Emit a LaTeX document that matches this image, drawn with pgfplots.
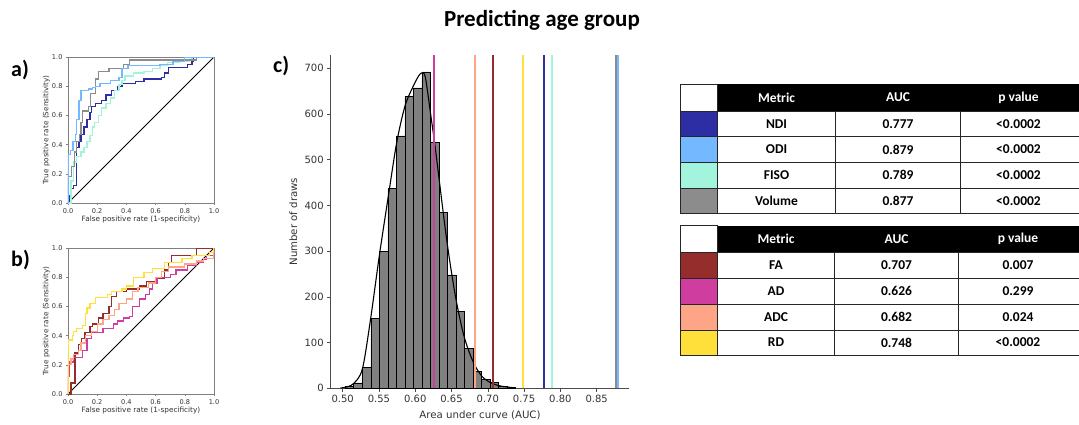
\documentclass[border=0pt]{standalone}
\usepackage{pgfplots}
\pgfplotsset{compat=1.18}
\usepackage{fontspec}
\setmainfont{DejaVu Sans}
\newfontfamily\calfont{Carlito}
\definecolor{ndi}{HTML}{2E2EA4}
\definecolor{odi}{HTML}{74B9FF}
\definecolor{fiso}{HTML}{A2F5DC}
\definecolor{vol}{HTML}{8C8C8C}
\definecolor{fa}{HTML}{962D2D}
\definecolor{ad}{HTML}{CF3E9E}
\definecolor{adc}{HTML}{FFA587}
\definecolor{rd}{HTML}{FFE03A}
\definecolor{histgray}{HTML}{808080}

\pgfplotsset{
  roc/.style={line width=1.3pt, const plot, #1},
  rocstyle/.style={
    scale only axis, width=146pt, height=146pt,
    xmin=0, xmax=1, ymin=0, ymax=1,
    xtick={0,0.2,0.4,0.6,0.8,1}, ytick={0,0.2,0.4,0.6,0.8,1},
    /pgf/number format/assume math mode=true,
    xticklabel style={/pgf/number format/fixed, /pgf/number format/fixed zerofill, /pgf/number format/precision=1},
    yticklabel style={/pgf/number format/fixed, /pgf/number format/fixed zerofill, /pgf/number format/precision=1},
    tick label style={font=\fontsize{6.6}{7.5}\selectfont, text=black!80},
    label style={font=\fontsize{7.3}{8.5}\selectfont, text=black!80},
    axis line style={black!50, line width=0.7pt},
    tick style={black!50, line width=0.5pt},
    major tick length=2pt, tick align=outside,
    xtick pos=bottom, ytick pos=left,
    xlabel={False positive rate (1-specificity)},
    ylabel={True positive rate (Sensitivity)},
    xlabel style={at={(axis description cs:0.5,-0.112)}, anchor=center},
    ylabel style={at={(axis description cs:-0.148,0.5)}, anchor=center},
  }
}

\begin{document}
\begin{tikzpicture}[x=1pt,y=1pt]
\useasboundingbox (0,0) rectangle (1079,424);
\fill[white] (0,0) rectangle (1079,424);

% title and panel labels
\node[font=\calfont\bfseries\fontsize{23}{27}\selectfont, anchor=base] at (542,397.3) {Predicting age group};
\node[font=\calfont\bfseries\fontsize{22}{26}\selectfont, anchor=base west, inner sep=0] at (11,347.3) {a)};
\node[font=\calfont\bfseries\fontsize{22}{26}\selectfont, anchor=base west, inner sep=0] at (11,157.3) {b)};
\node[font=\calfont\bfseries\fontsize{22}{26}\selectfont, anchor=base west, inner sep=0] at (273,351) {c)};

% ROC a
\begin{axis}[rocstyle, at={(68pt,221pt)}, anchor=south west]
\addplot[black, line width=1pt] coordinates {(0,0) (1,1)};
\addplot[roc=ndi] coordinates {(0,0) (0.007,0.05) (0.02,0.10) (0.04,0.12) (0.057,0.38) (0.075,0.42) (0.09,0.47) (0.11,0.52) (0.13,0.57) (0.15,0.62) (0.16,0.66) (0.19,0.68) (0.23,0.70) (0.26,0.74) (0.30,0.77) (0.34,0.80) (0.37,0.82) (0.46,0.83) (0.52,0.85) (0.64,0.86) (0.66,0.89) (0.69,0.93) (0.82,0.95) (0.85,0.97) (0.86,1.0) (1,1)};
\addplot[roc=fiso] coordinates {(0,0) (0.02,0.15) (0.04,0.28) (0.06,0.32) (0.09,0.35) (0.11,0.38) (0.13,0.42) (0.15,0.46) (0.17,0.52) (0.18,0.55) (0.21,0.60) (0.23,0.65) (0.26,0.68) (0.29,0.72) (0.32,0.77) (0.35,0.81) (0.37,0.84) (0.39,0.87) (0.45,0.89) (0.52,0.90) (0.58,0.92) (0.63,0.94) (0.68,0.96) (0.76,0.97) (0.83,0.98) (0.85,1.0) (1,1)};
\addplot[roc=vol] coordinates {(0,0) (0,0.18) (0.023,0.25) (0.046,0.35) (0.06,0.42) (0.08,0.47) (0.09,0.55) (0.10,0.63) (0.14,0.66) (0.155,0.75) (0.19,0.85) (0.21,0.90) (0.28,0.92) (0.38,0.95) (0.42,0.98) (0.88,1.0) (1,1)};
\addplot[roc=odi] coordinates {(0,0) (0,0.33) (0.016,0.36) (0.034,0.42) (0.05,0.47) (0.06,0.57) (0.075,0.70) (0.09,0.77) (0.14,0.78) (0.17,0.79) (0.19,0.80) (0.22,0.82) (0.29,0.84) (0.35,0.86) (0.37,0.92) (0.41,0.94) (0.63,0.95) (0.72,0.97) (0.80,1.0) (1,1)};
\end{axis}

% ROC b
\begin{axis}[rocstyle, at={(68pt,30pt)}, anchor=south west]
\addplot[black, line width=1pt] coordinates {(0,0) (1,1)};
\addplot[roc=fa] coordinates {(0,0) (0.02,0.075) (0.048,0.28) (0.07,0.34) (0.094,0.38) (0.116,0.42) (0.15,0.46) (0.17,0.48) (0.21,0.52) (0.24,0.55) (0.28,0.60) (0.30,0.67) (0.33,0.70) (0.40,0.72) (0.49,0.74) (0.54,0.77) (0.60,0.79) (0.66,0.85) (0.69,0.90) (0.71,0.95) (0.88,1.0) (1,1)};
\addplot[roc=ad] coordinates {(0,0) (0,0.12) (0.012,0.22) (0.036,0.25) (0.10,0.30) (0.13,0.38) (0.16,0.42) (0.24,0.45) (0.31,0.48) (0.34,0.50) (0.38,0.52) (0.42,0.53) (0.44,0.60) (0.49,0.65) (0.53,0.68) (0.56,0.72) (0.58,0.76) (0.61,0.80) (0.70,0.82) (0.74,0.85) (0.82,0.88) (0.88,0.90) (0.93,0.92) (0.95,0.95) (1,1)};
\addplot[roc=adc] coordinates {(0,0) (0,0.20) (0.02,0.24) (0.04,0.27) (0.07,0.30) (0.09,0.35) (0.12,0.40) (0.16,0.43) (0.20,0.48) (0.24,0.51) (0.28,0.54) (0.32,0.58) (0.35,0.62) (0.40,0.65) (0.44,0.70) (0.48,0.73) (0.55,0.76) (0.60,0.80) (0.64,0.84) (0.69,0.87) (0.80,0.89) (0.88,0.91) (0.93,0.93) (1,0.97) (1,1)};
\addplot[roc=rd] coordinates {(0,0) (0,0.27) (0.005,0.37) (0.03,0.40) (0.04,0.43) (0.06,0.45) (0.10,0.47) (0.12,0.55) (0.13,0.59) (0.15,0.62) (0.19,0.66) (0.27,0.68) (0.30,0.70) (0.37,0.72) (0.40,0.74) (0.45,0.80) (0.52,0.83) (0.58,0.86) (0.66,0.90) (0.78,0.93) (0.85,0.95) (0.97,0.97) (1,1)};
\end{axis}

% Histogram c
\begin{axis}[scale only axis, width=298.6pt, height=333.3pt, at={(330.7pt,35.7pt)}, anchor=south west,
  xmin=0.4835, xmax=0.895, ymin=0, ymax=729,
  axis lines=left, axis line style={-, black!70, line width=0.7pt},
  xtick={0.50,0.55,0.60,0.65,0.70,0.75,0.80,0.85},
  ytick={0,100,200,300,400,500,600,700},
  /pgf/number format/assume math mode=true,
  xticklabel style={/pgf/number format/fixed, /pgf/number format/fixed zerofill, /pgf/number format/precision=2},
  tick label style={font=\fontsize{10}{12}\selectfont, text=black!80},
  label style={font=\fontsize{10.2}{12}\selectfont, text=black!80},
  tick style={black!70, line width=0.6pt}, major tick length=3.5pt, tick align=outside,
  xlabel={Area under curve (AUC)}, ylabel={Number of draws},
  xlabel style={at={(axis description cs:0.5,-0.080)}, anchor=center},
  ylabel style={at={(axis description cs:-0.125,0.5)}, anchor=center},
  clip=false]
\addplot[ybar interval, fill=histgray, draw=black, line width=0.6pt] coordinates {
(0.5035,4) (0.5153,12) (0.5270,45) (0.5388,153) (0.5505,300) (0.5623,437) (0.5740,552) (0.5858,638) (0.5975,657) (0.6093,692) (0.6210,537) (0.6328,384) (0.6445,248) (0.6563,168) (0.6680,87) (0.6798,37) (0.6915,20) (0.7033,13) (0.7150,5) (0.7268,2) (0.7385,0)};
\addplot[black, line width=1.1pt, smooth] coordinates {
(0.497,1) (0.5032,2) (0.5147,10) (0.5271,42) (0.5386,153) (0.5505,290) (0.5629,420) (0.5744,537) (0.5858,617) (0.5973,661) (0.6050,684) (0.6095,690) (0.6140,680) (0.6212,600) (0.6277,525) (0.6327,460) (0.6442,315) (0.6561,195) (0.6676,112) (0.6800,57) (0.6915,27) (0.7030,13) (0.7145,6) (0.7260,3) (0.7380,1)};
\addplot[ad, line width=2.1pt] coordinates {(0.626,0) (0.626,729)};
\addplot[adc, line width=2.1pt] coordinates {(0.682,0) (0.682,729)};
\addplot[fa, line width=2.1pt] coordinates {(0.707,0) (0.707,729)};
\addplot[rd, line width=2.1pt] coordinates {(0.748,0) (0.748,729)};
\addplot[ndi, line width=2.1pt] coordinates {(0.777,0) (0.777,729)};
\addplot[fiso, line width=2.1pt] coordinates {(0.789,0) (0.789,729)};
\addplot[vol, line width=2.1pt] coordinates {(0.877,0) (0.877,729)};
\addplot[odi, line width=2.1pt] coordinates {(0.879,0) (0.879,729)};
\end{axis}

% Tables
\begin{scope}[font=\calfont\bfseries\fontsize{13.5}{16}\selectfont]
% table 1
\fill[black] (717.3,340) rectangle (1085,313);
\fill[ndi] (680,313) rectangle (717.3,287.3);
\fill[odi] (680,287.3) rectangle (717.3,261.7);
\fill[fiso] (680,261.7) rectangle (717.3,235.7);
\fill[vol] (680,235.7) rectangle (717.3,210.7);
\begin{scope}[draw=black!85, line width=0.9pt]
\draw (680,340) rectangle (717.3,313);
\draw (680,313) -- (1085,313);
\draw (680,287.3) -- (1085,287.3);
\draw (680,261.7) -- (1085,261.7);
\draw (680,235.7) -- (1085,235.7);
\draw (680,210.7) -- (1085,210.7);
\draw (680,313) -- (680,210.7);
\draw (717.3,313) -- (717.3,210.7);
\draw (835.7,313) -- (835.7,210.7);
\draw (960.7,313) -- (960.7,210.7);
\end{scope}
\node[text=white] at (776.5,326.5) {Metric};
\node[text=white] at (898,326.5) {AUC};
\node[text=white] at (1018.5,326.5) {p value};
\node at (776.5,300.2) {NDI};   \node at (898,300.2) {0.777}; \node at (1018.5,300.2) {<0.0002};
\node at (776.5,274.5) {ODI};   \node at (898,274.5) {0.879}; \node at (1018.5,274.5) {<0.0002};
\node at (776.5,248.7) {FISO};  \node at (898,248.7) {0.789}; \node at (1018.5,248.7) {<0.0002};
\node at (776.5,223.2) {Volume};\node at (898,223.2) {0.877}; \node at (1018.5,223.2) {<0.0002};
% table 2
\fill[black] (717.3,198.3) rectangle (1085,171.3);
\fill[fa] (680,171.3) rectangle (717.3,145.7);
\fill[ad] (680,145.7) rectangle (717.3,120);
\fill[adc] (680,120) rectangle (717.3,94);
\fill[rd] (680,94) rectangle (717.3,69);
\begin{scope}[draw=black!85, line width=0.9pt]
\draw (680,198.3) rectangle (717.3,171.3);
\draw (680,171.3) -- (1085,171.3);
\draw (680,145.7) -- (1085,145.7);
\draw (680,120) -- (1085,120);
\draw (680,94) -- (1085,94);
\draw (680,69) -- (1085,69);
\draw (680,171.3) -- (680,69);
\draw (717.3,171.3) -- (717.3,69);
\draw (834.7,171.3) -- (834.7,69);
\draw (958.3,171.3) -- (958.3,69);
\end{scope}
\node[text=white] at (776,184.8) {Metric};
\node[text=white] at (896.5,184.8) {AUC};
\node[text=white] at (1018,184.8) {p value};
\node at (776,158.5) {FA};  \node at (896.5,158.5) {0.707}; \node at (1018,158.5) {0.007};
\node at (776,132.8) {AD};  \node at (896.5,132.8) {0.626}; \node at (1018,132.8) {0.299};
\node at (776,107) {ADC};   \node at (896.5,107) {0.682}; \node at (1018,107) {0.024};
\node at (776,81.5) {RD};   \node at (896.5,81.5) {0.748}; \node at (1018,81.5) {<0.0002};
\end{scope}
\end{tikzpicture}
\end{document}
